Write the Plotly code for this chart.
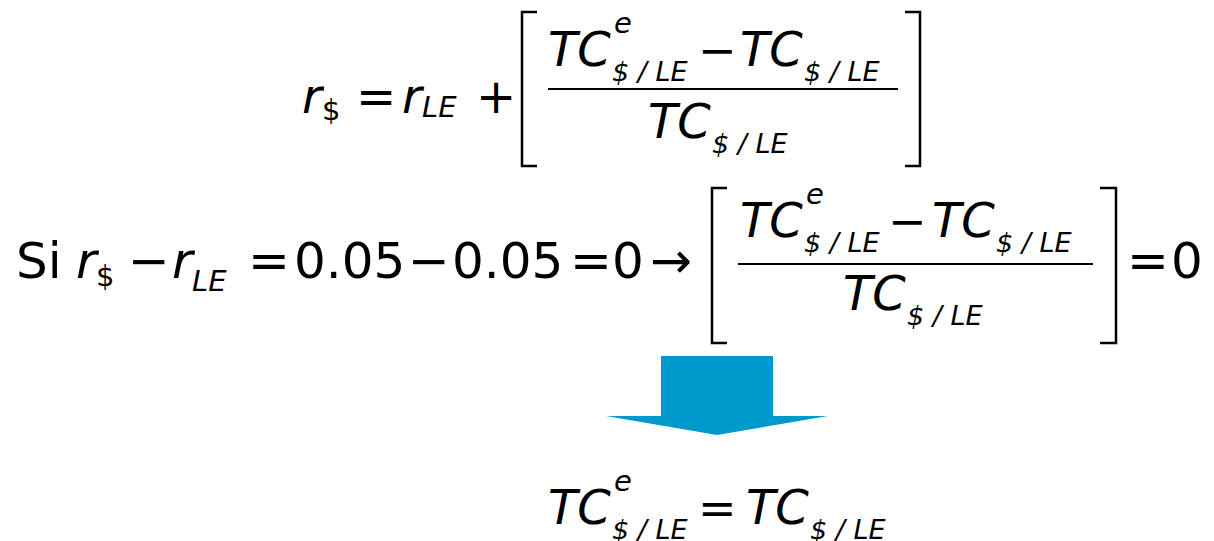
import plotly.graph_objects as go

# formula tokens
tc = "TC"
sup_e = "e"
sub_rate = "$ / LE"
r_sym = "r"
r_usd = "$"
r_le = "LE"
word_si = "Si"
rate_usd = "0.05"
rate_le = "0.05"
diff = "0"
result = "0"

W, H = 1214, 541
PAGE_PAD = 8  # default body margin of the html page
FONT = "DejaVu Sans"
BLUE = "#0099CC"

fig = go.Figure()


def put(txt, x, base, size, italic=False):
    # centre of text box sits ~0.346em above the baseline for DejaVu Sans
    t = f"<i>{txt}</i>" if italic else txt
    fig.add_annotation(x=x, y=base - 0.346 * size, text=t, showarrow=False,
                       xanchor="left", yanchor="middle", xref="x", yref="y",
                       font=dict(family=FONT, size=size, color="black"))


def bracket(x0, x1, y0, y1, left=True):
    xv = x0 if left else x1
    xe = x1 if left else x0
    fig.add_shape(type="path", path=f"M {xe},{y0} L {xv},{y0} L {xv},{y1} L {xe},{y1}",
                  line=dict(color="black", width=2.5), xref="x", yref="y")


def frac_line(x0, x1, y):
    fig.add_shape(type="line", x0=x0, x1=x1, y0=y, y1=y,
                  line=dict(color="black", width=2.2), xref="x", yref="y")


def tc_term(x, base, sup=False):
    put(tc, x, base, 48, True)
    if sup:
        put(sup_e, x + 66, base - 33, 29, True)
    put(sub_rate, x + 64, base + 15, 27, True)


def r_term(x, base, size, sub, sub_italic, sub_drop):
    put(r_sym, x, base, size, True)
    put(sub, x + 20, base + sub_drop, 29, sub_italic)


# line 1: r$ = rLE + [ (TCe - TC) / TC ]
r_term(300, 113, 48, r_usd, False, 7)
put("=", 354, 113, 48)
r_term(400, 113, 48, r_le, True, 4)
put("+", 474, 113, 48)
bracket(522, 537, 12, 166, True)
tc_term(546, 66, sup=True)
put("−", 696, 66, 46)
tc_term(738, 66)
frac_line(548, 898, 89)
tc_term(646, 138)
bracket(905, 920, 12, 166, False)

# line 2
put(word_si, 14, 278, 50)
r_term(74, 278, 50, r_usd, False, 8)
put("−", 126, 278, 50)
r_term(170, 278, 50, r_le, True, 13)
put("=", 246, 278, 50)
put(rate_usd, 292, 278, 50)
put("−", 406, 278, 50)
put(rate_le, 450, 278, 50)
put("=", 568, 278, 50)
put(diff, 610, 278, 50)
put("→", 648, 278, 50)
bracket(712, 727, 188, 343, True)
tc_term(738, 237, sup=True)
put("−", 886, 237, 46)
tc_term(930, 237)
frac_line(738, 1093, 264)
tc_term(841, 310)
bracket(1100, 1116, 188, 343, False)
put("=", 1125, 278, 50)
put(result, 1169, 278, 50)

# block arrow
fig.add_shape(type="path",
              path="M 661,356 L 773,356 L 773,416 L 828,416 L 717,435 L 606,416 L 661,416 Z",
              fillcolor=BLUE, line=dict(width=0), xref="x", yref="y")

# line 3: TCe = TC
tc_term(546, 524, sup=True)
put("=", 696, 524, 46)
tc_term(744, 524)

fig.update_xaxes(range=[PAGE_PAD, W + PAGE_PAD], visible=False)
fig.update_yaxes(range=[H + PAGE_PAD, PAGE_PAD], visible=False)
fig.update_layout(width=W, height=H, margin=dict(l=0, r=0, t=0, b=0),
                  plot_bgcolor="white", paper_bgcolor="white", showlegend=False)

fig.write_html("out.html")
